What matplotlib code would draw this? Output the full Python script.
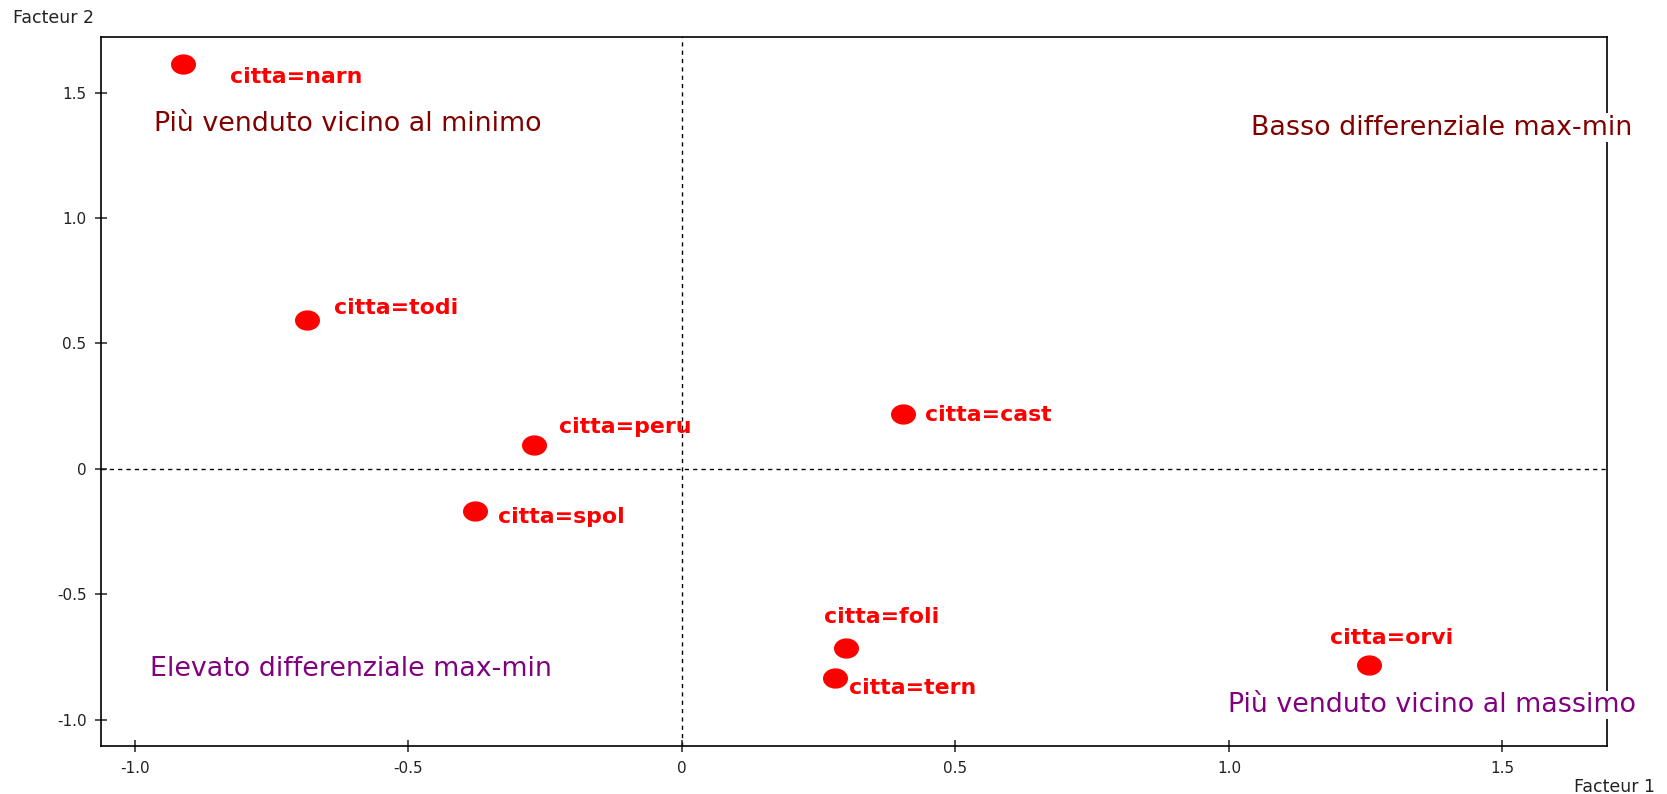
import matplotlib.pyplot as plt
from matplotlib.path import Path

plt.rcParams['font.family'] = ['DejaVu Sans']

# coordinate dei punti (Facteur 1, Facteur 2)
citta = ["narn", "todi", "peru", "spol", "cast", "foli", "tern", "orvi"]
facteur_1 = [-0.912, -0.686, -0.270, -0.379, 0.404, 0.299, 0.280, 1.256]
facteur_2 = [1.614, 0.593, 0.097, -0.169, 0.220, -0.712, -0.835, -0.780]

# etichette dei quadranti
quadranti = ["Più venduto vicino al minimo", "Basso differenziale max-min",
             "Elevato differenziale max-min", "Più venduto vicino al massimo"]
quadranti_x = [-0.966, 1.040, -0.972, 0.999]
quadranti_y = [1.373, 1.360, -0.797, -0.941]
quadranti_col = ["#800000", "#800000", "#800080", "#800080"]

x_ticks = [-1.0, -0.5, 0, 0.5, 1.0, 1.5]
x_tick_labels = ["-1.0", "-0.5", "0", "0.5", "1.0", "1.5"]
y_ticks = [-1.0, -0.5, 0, 0.5, 1.0, 1.5]
y_tick_labels = ["-1.0", "-0.5", "0", "0.5", "1.0", "1.5"]

# spostamento delle etichette rispetto al punto (pixel)
offset = [(47, -13), (27, 12), (25, 18), (23, -6), (22, -1), (-22, 31), (14, -10), (-39, 27)]

# punto leggermente schiacciato (l'originale e' stirato in orizzontale)
circ = Path.unit_circle()
ellisse = Path(circ.vertices * [1.25, 1.0], circ.codes)

fig = plt.figure(figsize=(16.67, 7.94), dpi=100)
ax = fig.add_axes([0.0606, 0.060, 0.9037, 0.893])

ax.axhline(0, color="black", lw=1, ls=(0, (3, 3)), zorder=1)
ax.axvline(0, color="black", lw=1, ls=(0, (3, 3)), zorder=1)

ax.plot(facteur_1, facteur_2, ls="none", marker=ellisse, color="#ff0000", ms=17, zorder=4)
for i, nome in enumerate(citta):
    ax.annotate("citta=" + nome, (facteur_1[i], facteur_2[i]), xytext=offset[i],
                textcoords="offset pixels", ha="left", va="center",
                color="#ff0000", fontsize=15.8, fontweight="bold", zorder=5)

for t, x, y, c in zip(quadranti, quadranti_x, quadranti_y, quadranti_col):
    ax.text(x, y, t, color=c, fontsize=19.4, ha="left", va="center", clip_on=False,
            zorder=6, bbox=dict(facecolor="white", edgecolor="none", pad=1))

ax.set_xlim(-1.062, 1.692)
ax.set_ylim(-1.106, 1.72)
ax.set_xticks(x_ticks, x_tick_labels)
ax.set_yticks(y_ticks, y_tick_labels)
ax.tick_params(direction="inout", length=9, width=1.1, labelsize=11, pad=6, colors="#222222")
for s in ["top", "right", "bottom", "left"]:
    ax.spines[s].set_linewidth(1.2)

fig.text(13 / 1667, 1 - 18 / 794, "Facteur 2", fontsize=12.5, ha="left", va="center", color="#222222")
fig.text(1655 / 1667, 1 - 787 / 794, "Facteur 1", fontsize=12.5, ha="right", va="center", color="#222222")

fig.savefig("out.png", dpi=100)
